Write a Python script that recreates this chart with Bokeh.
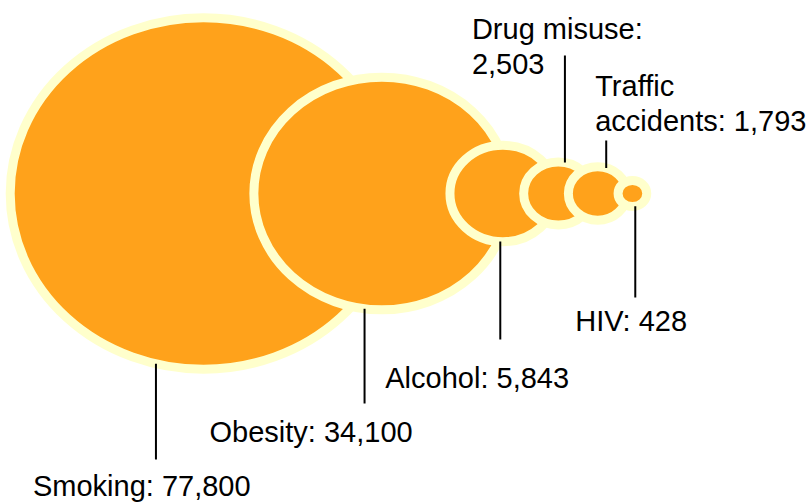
import math
from bokeh.plotting import figure
from bokeh.models import Range1d, ColumnDataSource
from bokeh.core.properties import value
from bokeh.embed import file_html
from bokeh.resources import INLINE

# ---- data ----
categories = ["Smoking", "Obesity", "Alcohol", "Drug misuse", "Traffic accidents", "HIV"]
deaths = [77800, 34100, 5843, 2503, 1793, 428]

# ---- label layout (annotation placement only) ----
label_side = ["below", "below", "below", "above", "above", "below"]
leader_frac = [-0.246, -0.135, -0.05, 0.19, 0.29, 0.2]   # leader x as fraction of half-width
leader_end = [459, 403, 339, 55, 140, 297]
text_dx = [-123, -155, -115, -93, -11, -60]
text_base = [495, 441.5, 387.7, 38.3, 95, 330.7]
wrap_words = [0, 0, 0, 2, 1, 0]
LINE_GAP = 35
TEXT_SHIFT = -10   # compensates Bokeh's alphabetic-baseline offset

# ---- styles / layout constants ----
SCALE = 0.63      # radius = SCALE * sqrt(value)
STRETCH = 1.1     # horizontal stretch of the bubbles
CY = 193
X0 = 203
STEP = 0.876      # next centre offset = STEP * previous half-width + GAP
GAP = 9
ORANGE = "#FFA21B"
PALE = "#FFFFCC"
FONT = "Liberation Sans"
FONT_SIZE = "29px"

r = [SCALE * math.sqrt(v) for v in deaths]
hw = [ri * STRETCH for ri in r]
cx = [X0]
for i in range(1, len(deaths)):
    cx.append(cx[-1] + STEP * hw[i - 1] + GAP)

bubbles = ColumnDataSource(dict(
    x=cx, y=[CY] * len(deaths),
    w=[2 * h for h in hw], h=[2 * ri for ri in r],
))

x0s, y0s, x1s, y1s = [], [], [], []
tx, ty, tt = [], [], []
for i, cat in enumerate(categories):
    f = leader_frac[i]
    lx = cx[i] + f * hw[i]
    dy = r[i] * math.sqrt(max(0.0, 1 - f * f))
    ys = CY + dy if label_side[i] == "below" else CY - dy
    x0s.append(lx); y0s.append(ys); x1s.append(lx); y1s.append(leader_end[i])
    words = f"{cat}: {deaths[i]:,}".split(" ")
    if wrap_words[i]:
        lines = [" ".join(words[:wrap_words[i]]), " ".join(words[wrap_words[i]:])]
    else:
        lines = [" ".join(words)]
    for k, ln in enumerate(lines):
        tx.append(lx + text_dx[i]); ty.append(text_base[i] + k * LINE_GAP + TEXT_SHIFT); tt.append(ln)

p = figure(width=807, height=503, title=None,
           x_range=Range1d(0, 807), y_range=Range1d(503, 0),
           output_backend="svg", toolbar_location=None,
           x_axis_location=None, y_axis_location=None, min_border=0)
p.grid.visible = False
p.outline_line_color = None
p.background_fill_color = "white"
p.border_fill_color = "white"

p.ellipse(x="x", y="y", width="w", height="h", source=bubbles,
          fill_color=ORANGE, line_color=PALE, line_width=9)

p.segment(x0=x0s, y0=y0s, x1=x1s, y1=y1s, line_color="black", line_width=2)

p.text(x=tx, y=ty, text=tt, text_font=value(FONT), text_font_size=FONT_SIZE,
       text_baseline="alphabetic", text_align="left", text_color="black")

open("out.html", "w").write(file_html(p, INLINE))
